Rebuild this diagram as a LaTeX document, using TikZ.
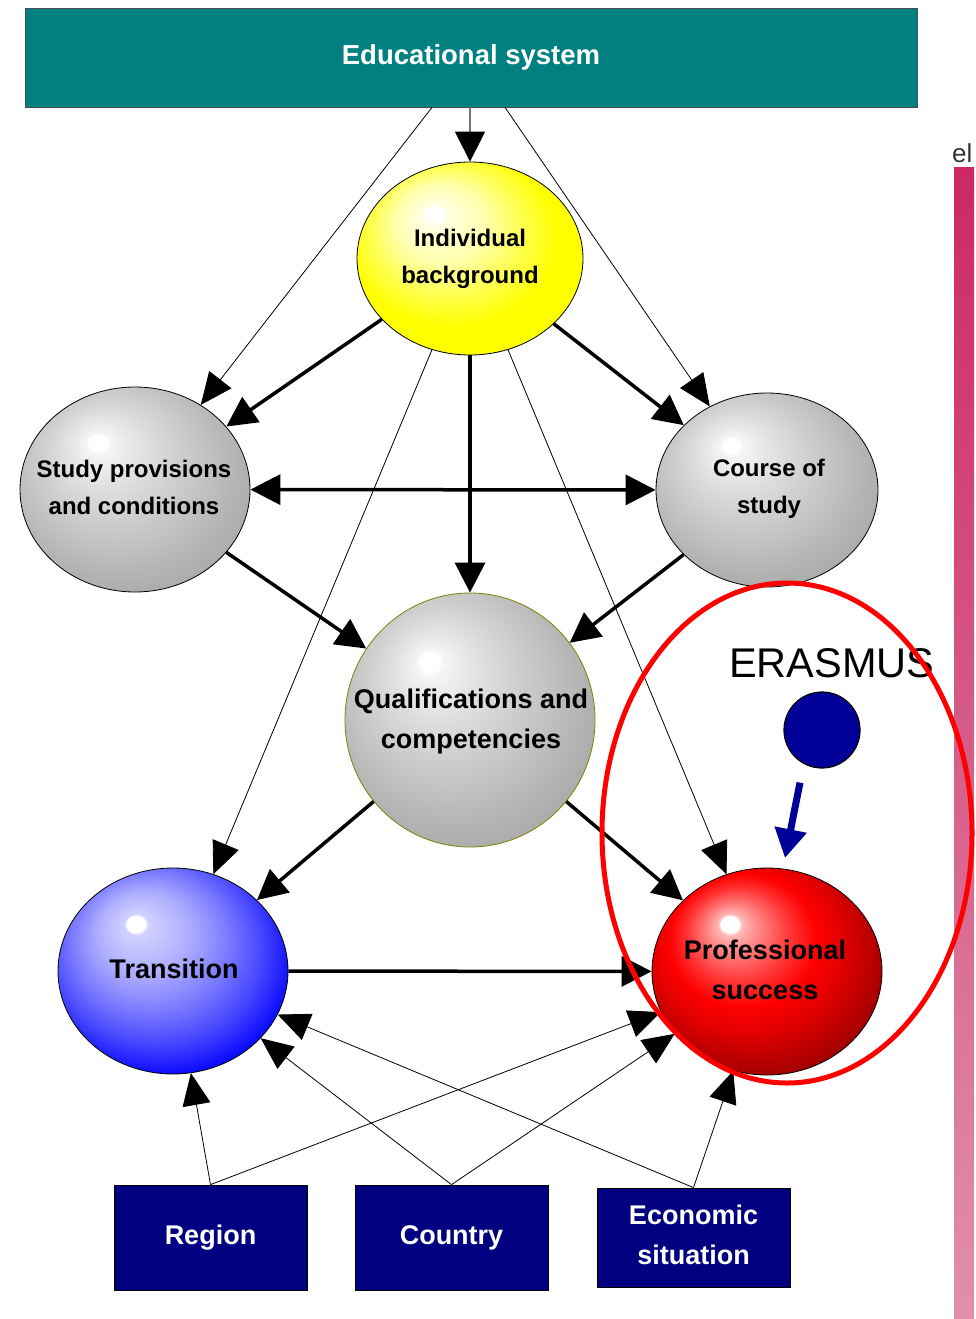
\documentclass[tikz,border=0pt]{standalone}
\usepackage{fontspec}
\setmainfont{Liberation Sans}
\usetikzlibrary{arrows.meta,shapes.geometric}
\pgfdeclareradialshading{graysph}{\pgfpoint{-8.5bp}{12bp}}{color(0bp)=(white); color(2bp)=(white); color(2.6bp)=(black!4); color(7bp)=(black!10); color(14bp)=(black!18); color(25bp)=(black!29); color(34bp)=(black!37); color(42bp)=(black!42)}
\pgfdeclareradialshading{yellowsph}{\pgfpoint{-8.5bp}{12bp}}{color(0bp)=(white); color(2bp)=(white); color(3bp)=(yellow!12!white); color(10bp)=(yellow!32!white); color(16bp)=(yellow!65!white); color(23bp)=(yellow); color(42bp)=(yellow)}
\pgfdeclareradialshading{bluesph}{\pgfpoint{-8.5bp}{12bp}}{color(0bp)=(white); color(2bp)=(white); color(2.6bp)=(blue!18!white); color(10bp)=(blue!32!white); color(17bp)=(blue!52!white); color(23bp)=(blue!72!white); color(30bp)=(blue); color(42bp)=(blue)}
\pgfdeclareradialshading{redsph}{\pgfpoint{-8.5bp}{12bp}}{color(0bp)=(white); color(2bp)=(white); color(2.6bp)=(red!28!white); color(6bp)=(red!50!white); color(11bp)=(red!78!white); color(16bp)=(red); color(21bp)=(red!88!black); color(27bp)=(red!70!black); color(33bp)=(red!52!black); color(42bp)=(red!50!black)}
\definecolor{tealbox}{RGB}{0,128,128}
\definecolor{navybox}{RGB}{0,0,128}
\definecolor{erasblue}{RGB}{0,0,153}
\definecolor{olivebd}{RGB}{128,128,0}
\definecolor{bartop}{RGB}{204,40,102}
\definecolor{barbot}{RGB}{224,144,172}
\begin{document}
\begin{tikzpicture}[x=1pt,y=-1pt,
  sphere/.style={ellipse, draw=black, line width=0.8pt, inner sep=0pt},
  lbl/.style={font=\bfseries\fontsize{24}{37}\selectfont, align=center, inner sep=0pt},
  lblbig/.style={font=\bfseries\fontsize{27}{40}\selectfont, align=center, inner sep=0pt},
  boxn/.style={draw=black, line width=0.8pt, fill=navybox, minimum width=193pt, text=white, font=\bfseries\fontsize{27}{40}\selectfont, align=center, inner sep=0pt},
  boxt/.style={text=white, font=\bfseries\fontsize{27}{40}\selectfont, align=center, inner sep=0pt},
  bigarr/.style={line width=3.5pt, -{Triangle[length=30pt,width=30pt]}},
  thinarr/.style={line width=0.8pt, -{Triangle[length=32pt,width=28pt]}}
]
\useasboundingbox (0,0) rectangle (976,1319);

% side bar
\node[minimum width=20pt, minimum height=1152pt, inner sep=0pt, top color=bartop, bottom color=barbot, draw=none] (bar) at (964,743) {};
\node[font=\fontsize{26}{30}\selectfont, text=black!80, anchor=base west, inner sep=0pt] (eltxt) at (952,162) {el};

% top box
\node[draw=black!70, line width=0.8pt, fill=tealbox, minimum width=892pt, minimum height=99pt, text=white, font=\bfseries\fontsize{27.5}{33}\selectfont] (edu) at (471,57.5) {Educational system};

% spheres
\node[sphere, shading=yellowsph, minimum width=226pt, minimum height=193pt] (ind) at (470,258.5) {};
\node[sphere, shading=graysph, minimum width=230pt, minimum height=205pt] (study) at (135,489.5) {};
\node[sphere, shading=graysph, minimum width=222pt, minimum height=194pt] (course) at (767,490) {};
\node[sphere, draw=olivebd, shading=graysph, minimum width=250pt, minimum height=254pt] (qual) at (470,720) {};
\node[sphere, shading=bluesph, minimum width=230pt, minimum height=206pt] (trans) at (173,971) {};
\node[sphere, shading=redsph, minimum width=230pt, minimum height=207pt] (prof) at (767,971.5) {};

\node[lbl] (indt) at (470,259) {Individual\\background};
\node[lbl] (studyt) at (134,487) {Study provisions\\and conditions};
\node[lbl] (courset) at (769,489) {Course of\\study};
\node[lblbig] (qualt) at (471,722) {Qualifications and\\competencies};
\node[lblbig] (transt) at (174,969) {Transition};
\node[lblbig] (proft) at (765,970) {Professional\\success};

% bottom boxes
\node[boxn, minimum height=105pt] (region) at (210.5,1237.5) {Region};
\node[boxn, minimum height=105pt] (country) at (451.5,1237.5) {Country};
\node[boxn, minimum height=99pt] (econ) at (693.5,1237.5) {};
\node[boxt] (econt) at (693.5,1234.5) {Economic\\situation};

% connectors from educational system
\draw[thinarr] ([xshift=-39pt]edu.south) -- (study);
\draw[thinarr] ([xshift=34pt]edu.south) -- (course);
\draw[line width=1.5pt, black!55, -{Triangle[length=30pt,width=30pt,black]}] (ind.north |- edu.south) -- (ind.north);

% thick arrows
\draw[bigarr] (ind) -- (study);
\draw[bigarr] (ind) -- (course);
\draw[bigarr] (ind) -- (qual);
\draw[line width=3.5pt, {Triangle[length=30pt,width=30pt]}-{Triangle[length=30pt,width=30pt]}] (study) -- (course);
\draw[bigarr] (study) -- (qual);
\draw[bigarr] (course) -- (qual);
\draw[bigarr] (qual) -- (trans);
\draw[bigarr] (qual) -- (prof);
\draw[bigarr] (trans) -- (prof);

% thin arrows
\draw[thinarr] (ind) -- (trans);
\draw[thinarr] (ind) -- (prof);
\draw[thinarr] (region.north) -- (trans);
\draw[thinarr] (region.north) -- (prof);
\draw[thinarr] (country.north) -- (trans);
\draw[thinarr] (country.north) -- (prof);
\draw[thinarr] (econ.north) -- (trans);
\draw[thinarr] (econ.north) -- (prof);

% ERASMUS
\node[font=\fontsize{41.5}{48}\selectfont, anchor=base west, inner sep=0pt] (erastxt) at (729,677) {ERASMUS};
\node[circle, draw=black, line width=1.2pt, fill=erasblue, minimum size=76pt, inner sep=0pt] (eras) at (822,730) {};
\coordinate (etip) at (785,858);
\draw[erasblue, line width=7pt, -{Triangle[length=29pt,width=31pt]}] ([shift={(-22,14)}]eras.south) -- (etip);

% red ring
\node[ellipse, draw=red, line width=5pt, minimum width=370pt, minimum height=500pt, inner sep=0pt] (ring) at (787,833) {};
\end{tikzpicture}
\end{document}
